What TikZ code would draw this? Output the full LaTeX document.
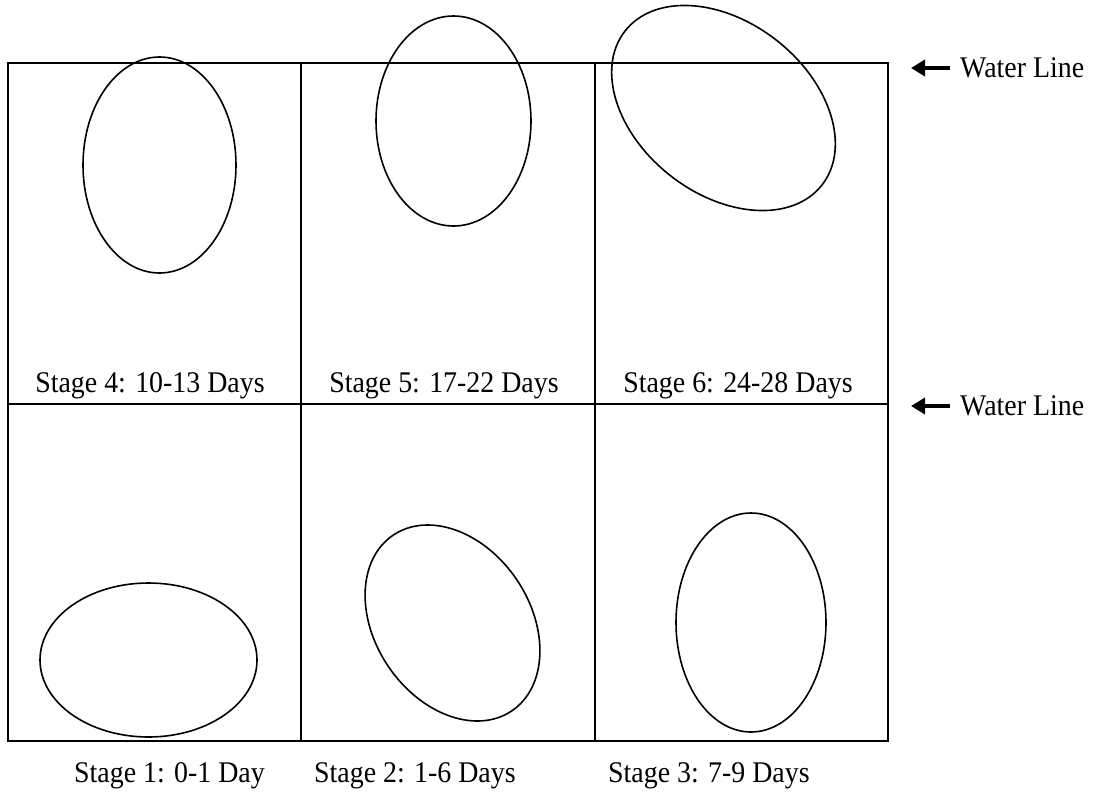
\documentclass[tikz,border=0pt]{standalone}
\usepackage{fontspec}
\setmainfont{Liberation Serif}
\usetikzlibrary{arrows.meta}
\begin{document}
\begin{tikzpicture}[x=1pt,y=-1pt,
  frame/.style={line width=2pt},
  egg/.style={line width=1.6pt},
  lbl/.style={font=\fontsize{30}{34}\selectfont, inner sep=0pt, xscale=0.93},
  wl/.style={line width=4.5pt, -{Triangle[length=14pt,width=16pt]}}]
\useasboundingbox (0,0) rectangle (1103,803);
% tank grid
\draw[frame] (8,63) rectangle (888,741);
\draw[frame] (8,404) -- (888,404);
\draw[frame] (301,63) -- (301,741);
\draw[frame] (595,63) -- (595,741);
% eggs, top row
\draw[egg] (159.5,165) ellipse (76.5 and 108);
\draw[egg] (453.5,121) ellipse (77.5 and 105);
\draw[egg, rotate around={52:(723.5,108)}] (723.5,108) ellipse (86 and 125);
% eggs, bottom row
\draw[egg] (148.5,660) ellipse (108.5 and 77);
\draw[egg, rotate around={34:(452.5,623)}] (452.5,623) ellipse (77.5 and 106);
\draw[egg] (751,622.5) ellipse (75 and 109.5);
% stage labels
\node[lbl] (s4) at (150,386) {Stage 4: 10-13 Days};
\node[lbl] (s5) at (444,386) {Stage 5: 17-22 Days};
\node[lbl] (s6) at (738,386) {Stage 6: 24-28 Days};
\node[lbl, anchor=west] (s1) at (74,776) {Stage 1: 0-1 Day};
\node[lbl, anchor=west] (s2) at (314,776) {Stage 2: 1-6 Days};
\node[lbl, anchor=west] (s3) at (608,776) {Stage 3: 7-9 Days};
% water lines
\node[lbl, anchor=west] (w1) at (960,68) {Water Line};
\node[lbl, anchor=west] (w2) at (960,406) {Water Line};
\coordinate (a1) at (911,68);
\coordinate (a2) at (911,406);
\draw[wl] (w1.west) ++(-10,0) -- (a1);
\draw[wl] (w2.west) ++(-10,0) -- (a2);
\end{tikzpicture}
\end{document}
